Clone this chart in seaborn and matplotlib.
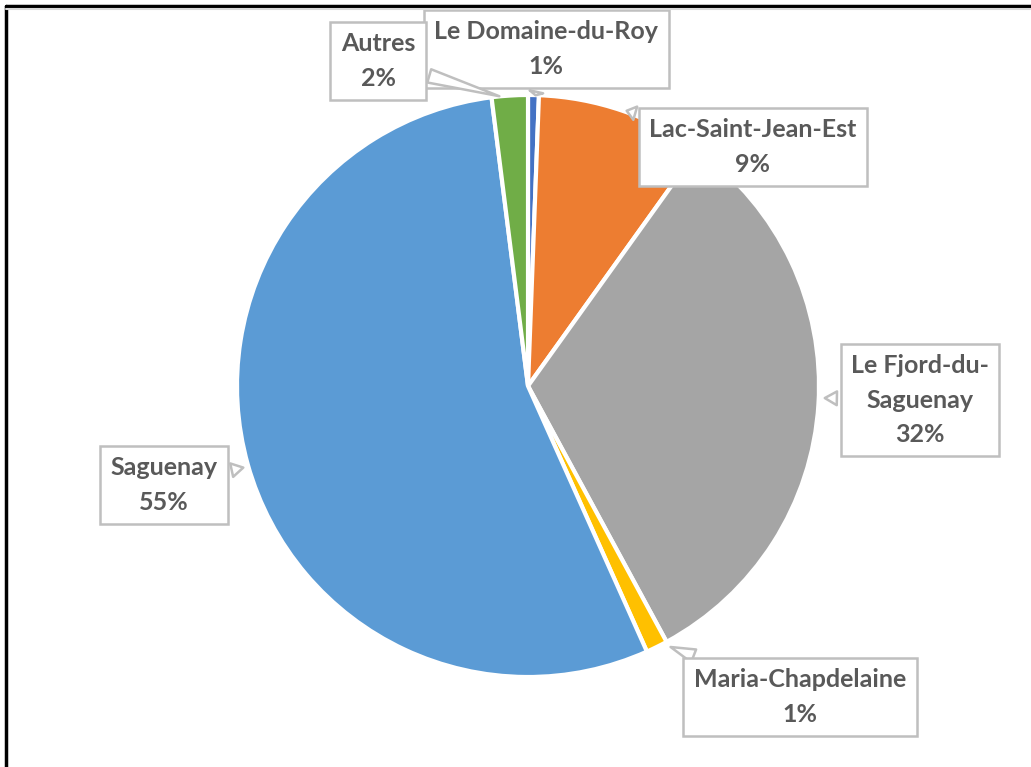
import matplotlib
matplotlib.use("Agg")
import matplotlib.pyplot as plt
import seaborn as sns
from matplotlib.lines import Line2D

# data (clockwise from 12 o'clock)
regions = ['Le Domaine-du-Roy', 'Lac-Saint-Jean-Est', 'Le Fjord-du-Saguenay',
           'Maria-Chapdelaine', 'Saguenay', 'Autres']
shares = [0.6, 9.3, 32.2, 1.2, 54.7, 2.0]
label_names = ['Le Domaine-du-Roy', 'Lac-Saint-Jean-Est', 'Le Fjord-du-\nSaguenay',
               'Maria-Chapdelaine', 'Saguenay', 'Autres']
colors = ['#4472C4', '#ED7D31', '#A5A5A5', '#FFC000', '#5B9BD5', '#70AD47']

sns.set_theme(style="white")
plt.rcParams['font.family'] = ['Lato', 'DejaVu Sans']

W, H = 1031, 767
fig = plt.figure(figsize=(W / 100, H / 100), dpi=100)
ax = fig.add_axes([0, 0, 1, 1])

cx, cy, r = 528, H - 386, 291
ax.pie(shares, colors=colors, startangle=90, counterclock=False,
       center=(cx, cy), radius=r,
       wedgeprops=dict(edgecolor='white', linewidth=3))
ax.set_xlim(0, W)
ax.set_ylim(0, H)
ax.set_aspect('equal')
ax.axis('off')

# callout boxes: (box centre, tip) in pixels from top-left
callouts = {
    'Le Domaine-du-Roy': ((546, 49), (535, 98)),
    'Lac-Saint-Jean-Est': ((753, 147), (624, 110)),
    'Le Fjord-du-Saguenay': ((920, 400), (822, 398)),
    'Maria-Chapdelaine': ((800, 697), (668, 646)),
    'Saguenay': ((164, 485), (246, 467)),
    'Autres': ((378, 61), (502, 97)),
}

for name, lab, v in zip(regions, label_names, shares):
    (bx, by), (tx, ty) = callouts[name]
    ax.annotate(f"{lab}\n{round(v)}%", xy=(tx, H - ty), xytext=(bx, H - by),
                ha='center', va='center', fontsize=18, fontweight='bold',
                color='#595959', linespacing=1.6,
                bbox=dict(boxstyle='square,pad=0.42', fc='white', ec='#BFBFBF', lw=1.8),
                arrowprops=dict(arrowstyle='wedge,tail_width=0.55,shrink_factor=0.5',
                                fc='white', ec='#BFBFBF', lw=1.8))

# outer frame
fig.add_artist(Line2D([6 / W, 1], [1 - 6 / H, 1 - 6 / H], color='black', lw=2.5))
fig.add_artist(Line2D([6 / W, 6 / W], [0, 1 - 6 / H], color='black', lw=2.5))
fig.add_artist(Line2D([6 / W, 1], [1 - 9 / H, 1 - 9 / H], color='#D9D9D9', lw=1.5))

plt.savefig('out.png', dpi=100, facecolor='white')
